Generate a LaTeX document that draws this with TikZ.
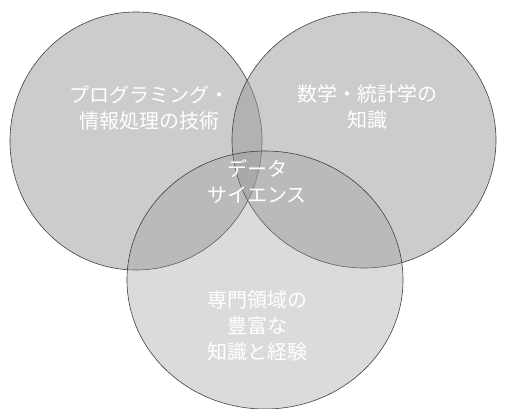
\documentclass[tikz,border=0pt]{standalone}
\usepackage{fontspec}
\newfontfamily\jpfont{Noto Sans CJK JP}
\usetikzlibrary{shapes.geometric}

\begin{document}
\begin{tikzpicture}[x=1pt, y=-1pt,
  set/.style={ellipse,draw=black!75,line width=0.6pt,fill=black!40,fill opacity=0.5,inner sep=0pt},
  lbl/.style={text=white,align=center,font=\jpfont\fontsize{20}{26}\selectfont}]
  \useasboundingbox (0,0) rectangle (508,409);
  % the three sets
  \node[set,minimum width=252pt,minimum height=258pt] (prog) at (136,141) {};
  \node[set,minimum width=264pt,minimum height=256pt] (math) at (364,140) {};
  \node[set,fill opacity=0.35,minimum width=276pt,minimum height=258pt] (field) at (265,280) {};
  % labels
  \node[lbl] (progtxt) at (149,108) {プログラミング・\\情報処理の技術};
  \node[lbl] (mathtxt) at (367,107) {数学・統計学の\\知識};
  \node[lbl] (ds) at (257,181) {データ\\サイエンス};
  \node[lbl] (fieldtxt) at (257,326) {専門領域の\\豊富な\\知識と経験};
\end{tikzpicture}
\end{document}
